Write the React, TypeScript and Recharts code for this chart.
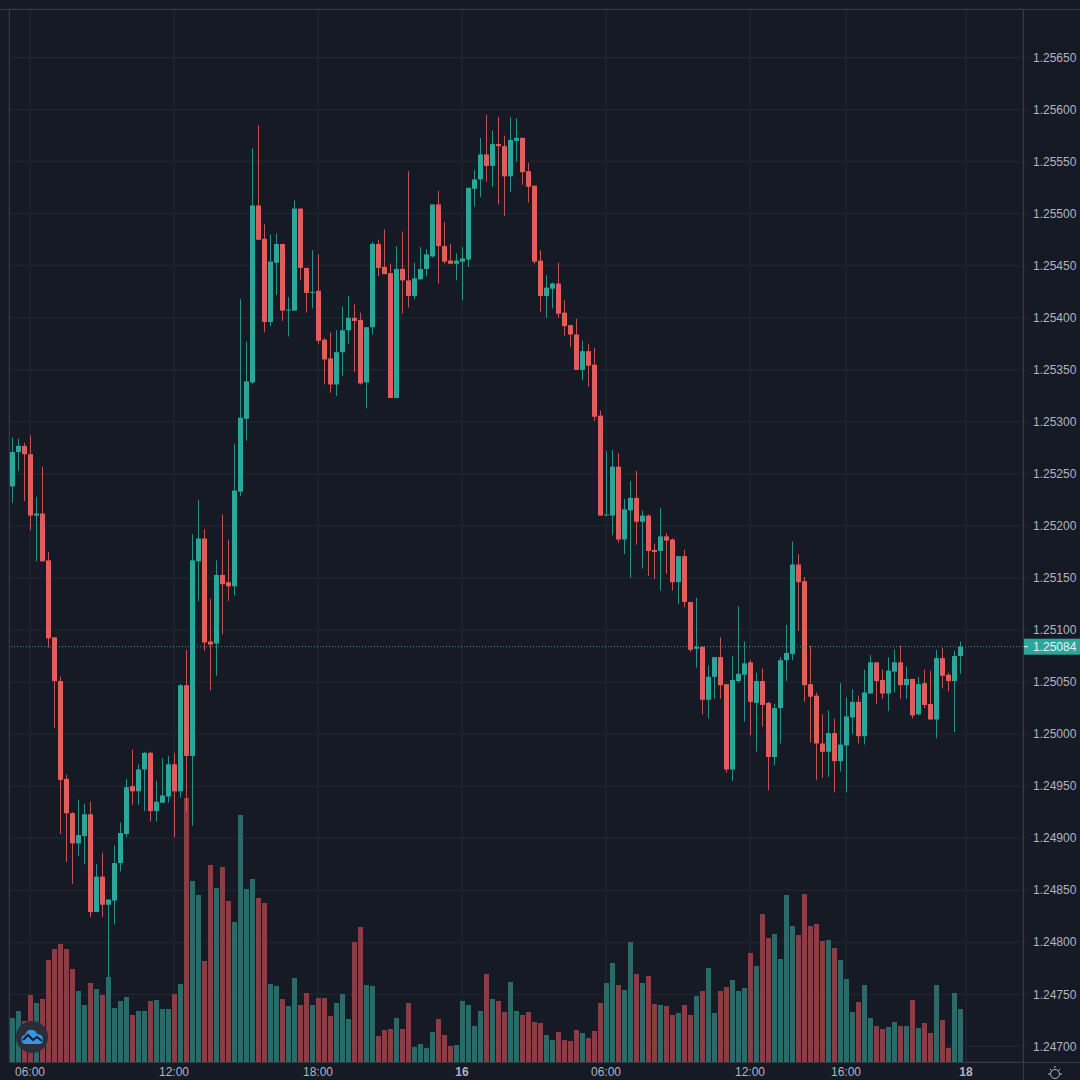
import { ComposedChart, Bar, XAxis, YAxis, CartesianGrid, ReferenceLine, Cell } from "recharts";

// prices are stored in 1/100000 units, 125285 = 1.25285
const highs = [125285,125284,125280,125287,125228,125257,125175,125093,125055,124961,124925,124937,124933,124935,124875,124886,124841,124893,124915,124957,124985,124971,124983,124983,124955,124977,124979,124982,125048,125081,125192,125225,125197,125130,125167,125211,125187,125279,125418,125377,125563,125585,125490,125480,125481,125471,125420,125513,125505,125448,125465,125461,125381,125386,125388,125411,125421,125413,125405,125391,125473,125475,125485,125452,125469,125483,125541,125453,125468,125466,125509,125522,125492,125471,125462,125468,125525,125542,125573,125595,125580,125593,125575,125593,125592,125573,125549,125527,125465,125441,125434,125453,125417,125393,125399,125378,125375,125371,125311,125272,125273,125270,125226,125243,125253,125215,125211,125183,125217,125193,125188,125171,125177,125127,125131,125084,125066,125074,125093,125048,125075,125123,125089,125071,125059,125063,125031,125029,125074,125105,125185,125173,125151,125085,125040,125019,125023,125015,125049,125035,125043,125037,125062,125076,125069,125062,125074,125081,125085,125065,125053,125055,125062,125061,125081,125083,125059,125080,125089];
const opens = [125238,125271,125277,125269,125210,125212,125167,125093,125051,124957,124924,124895,124902,124923,124829,124863,124836,124840,124876,124904,124950,124945,124966,124982,124926,124934,124940,124971,124945,125047,124979,125166,125188,125089,125087,125153,125146,125142,125233,125303,125338,125508,125476,125396,125453,125471,125407,125407,125505,125448,125424,125426,125379,125361,125336,125367,125388,125400,125398,125338,125391,125471,125449,125443,125323,125447,125436,125421,125437,125447,125459,125509,125469,125455,125452,125454,125456,125524,125533,125557,125546,125567,125565,125536,125570,125573,125541,125527,125455,125421,125428,125433,125405,125393,125384,125350,125368,125355,125306,125210,125210,125257,125187,125215,125227,125204,125210,125177,125176,125190,125187,125146,125171,125127,125082,125084,125033,125055,125074,125048,124966,125051,125057,125069,125030,125051,125030,124978,125025,125071,125077,125163,125147,125048,125037,124991,124983,125001,124974,124989,125016,125031,124998,125039,125069,125052,125039,125060,125069,125047,125053,125019,125049,125029,125014,125073,125057,125051,125075];
const closes = [125271,125277,125269,125210,125212,125166,125092,125051,124956,124924,124895,124903,124923,124829,124863,124836,124841,124876,124905,124949,124945,124966,124982,124926,124935,124941,124971,124945,125047,124979,125167,125188,125088,125086,125153,125144,125142,125234,125304,125339,125508,125475,125396,125454,125471,125407,125408,125505,125448,125424,125425,125378,125360,125336,125367,125388,125400,125397,125337,125391,125471,125448,125442,125323,125447,125436,125421,125438,125447,125461,125509,125469,125454,125452,125455,125457,125525,125533,125557,125546,125567,125565,125536,125571,125573,125540,125526,125454,125421,125429,125433,125404,125392,125384,125350,125368,125354,125305,125210,125211,125257,125187,125216,125227,125204,125210,125176,125175,125190,125186,125146,125171,125127,125081,125084,125033,125055,125074,125047,124966,125052,125058,125068,125031,125051,125028,124978,125025,125071,125078,125163,125146,125047,125036,124991,124983,125001,124974,124990,125017,125031,124998,125040,125069,125051,125039,125061,125069,125047,125053,125018,125048,125028,125014,125073,125056,125051,125075,125084];
const lows = [125222,125253,125224,125196,125166,125166,125083,125006,124904,124877,124856,124883,124875,124824,124829,124824,124766,124817,124868,124901,124932,124932,124926,124916,124916,124934,124934,124901,124939,124926,124912,125128,125080,125042,125056,125096,125128,125133,125229,125282,125336,125475,125386,125392,125422,125397,125382,125407,125436,125405,125409,125375,125336,125328,125325,125344,125375,125348,125336,125313,125384,125440,125442,125323,125323,125404,125410,125418,125437,125440,125458,125433,125452,125452,125436,125417,125449,125507,125516,125531,125526,125509,125498,125521,125550,125528,125511,125452,125406,125400,125409,125400,125383,125372,125350,125340,125334,125301,125210,125210,125191,125184,125173,125150,125182,125159,125152,125149,125138,125154,125138,125125,125122,125079,125064,125019,125015,125034,125034,124963,124955,125049,125012,124999,124983,125007,124946,124970,124991,125051,125071,125099,125031,124992,124956,124958,124959,124944,124964,124944,125000,124991,124990,125039,125029,125034,125022,125040,125034,125034,125015,125018,125025,125014,124996,125044,125041,125002,125058];
const volumes = [44,51,41,67,59,63,102,113,118,113,93,71,57,79,73,67,85,54,61,65,47,51,51,61,62,53,53,68,78,264,181,167,101,197,174,195,161,140,247,173,183,164,159,78,76,63,56,84,57,69,57,64,64,46,59,68,43,120,135,77,76,26,32,33,44,33,59,15,18,14,30,43,27,16,17,61,57,36,51,88,63,61,50,80,51,47,50,40,39,27,22,30,22,21,32,29,24,31,59,79,99,77,72,120,88,79,86,58,57,56,47,49,57,47,66,71,94,49,71,75,82,71,74,109,96,148,124,128,103,167,136,127,168,136,138,121,122,114,102,83,50,60,77,44,36,33,35,40,36,36,62,34,39,29,77,42,14,69,53];

const priceTicks = [125650,125600,125550,125500,125450,125400,125350,125300,125250,125200,125150,125100,125050,125000,124950,124900,124850,124800,124750,124700];
const timeTicks = [3,27,51,75,99,123,139,159];
const timeLabels = ["06:00","12:00","18:00","16","06:00","12:00","16:00","18"];
const boldLabels = ["16","18"];
const lastPrice = 125084;

const UP = "#2CA69A";
const DOWN = "#E35C5C";
const UP_VOL = "#2A6B69";
const DOWN_VOL = "#8A3D42";
const BG = "#161A25";
const GRID = "#252935";
const BORDER = "#363A45";
const TEXT = "#B2B5BE";
const SLOTS = 169;

const rows = Array.from({ length: SLOTS }, (_, i) =>
  i < opens.length
    ? { idx: i, open: opens[i], close: closes[i], high: highs[i], low: lows[i], range: [lows[i], highs[i]], volume: volumes[i] }
    : { idx: i }
);

// body and wick from the high-low bar the library has already scaled
function Candle(props: any) {
  const { x, y, width, height, payload } = props;
  if (payload.open === undefined || !height) return null;
  const unit = Math.abs(height) / (payload.high - payload.low);
  const top = Math.max(payload.open, payload.close);
  const bottom = Math.min(payload.open, payload.close);
  const color = payload.close >= payload.open ? UP : DOWN;
  const cx = x + width / 2;
  const bodyY = y + (payload.high - top) * unit;
  const bodyH = Math.max((top - bottom) * unit, 1);
  return (
    <g>
      <rect x={cx - 0.5} y={y} width={1} height={Math.abs(height)} fill={color} fillOpacity={0.85} />
      <rect x={cx - 2.5} y={bodyY} width={5} height={bodyH} fill={color} />
    </g>
  );
}

function TimeTick(props: any) {
  const { x, y, payload } = props;
  const label = timeLabels[timeTicks.indexOf(payload.value)];
  return (
    <text x={x} y={y + 6} textAnchor="middle" fontSize={12} fontFamily="Liberation Sans" fontWeight={boldLabels.includes(label) ? 700 : 400} fill={TEXT}>
      {label}
    </text>
  );
}

function PriceTag(props: any) {
  const { viewBox } = props;
  const right = viewBox.x + viewBox.width;
  return (
    <g>
      <rect x={right} y={viewBox.y - 8} width={57} height={16} fill={UP} />
      <rect x={right} y={viewBox.y - 0.5} width={5} height={1} fill="#E6F4F2" />
      <text x={right + 10} y={viewBox.y + 4} fontSize={12} fontFamily="Liberation Sans" fill="#E6F4F2">
        {(lastPrice / 100000).toFixed(5)}
      </text>
    </g>
  );
}

const line = (left: number, top: number, width: number, height: number) => (
  <div style={{ position: "absolute", left, top, width, height, background: BORDER }} />
);

export default function App() {
  return (
    <div style={{ position: "absolute", left: 0, top: 0, width: 1080, height: 1080, background: BG, overflow: "hidden" }}>
      <ComposedChart width={1080} height={1080} data={rows} margin={{ top: 9, right: 0, bottom: 0, left: 9 }}>
        <CartesianGrid xAxisId="main" yAxisId="price" stroke={GRID} strokeWidth={1} />
        <XAxis xAxisId="main" dataKey="idx" ticks={timeTicks} interval={0} height={18} tick={<TimeTick />} tickLine={false} axisLine={false} />
        <XAxis xAxisId="vol" dataKey="idx" hide />
        <YAxis yAxisId="price" orientation="right" width={57} type="number" domain={[124684.9, 125696.8]} ticks={priceTicks} interval={0}
          tickFormatter={(v: number) => (v / 100000).toFixed(5)} tick={{ fontSize: 12, fontFamily: "Liberation Sans", fill: TEXT }}
          tickSize={5} tickMargin={5} tickLine={{ stroke: GRID }} axisLine={false} />
        <YAxis yAxisId="vol" hide type="number" domain={[0, 1053]} />
        <Bar xAxisId="vol" yAxisId="vol" dataKey="volume" barSize={5} isAnimationActive={false}>
          {rows.map((r: any) => (
            <Cell key={r.idx} fill={r.close >= r.open ? UP_VOL : DOWN_VOL} />
          ))}
        </Bar>
        <Bar xAxisId="main" yAxisId="price" dataKey="range" barSize={5} shape={<Candle />} isAnimationActive={false} />
        <ReferenceLine xAxisId="main" yAxisId="price" y={lastPrice} stroke="#3C9A92" strokeDasharray="1 2" label={<PriceTag />} />
      </ComposedChart>
      {line(0, 9, 1080, 1)}
      {line(9, 9, 1, 1053)}
      {line(1023, 9, 1, 1071)}
      {line(9, 1062, 1071, 1)}
      <svg style={{ position: "absolute", left: 16, top: 1021 }} width={32} height={32} viewBox="0 0 32 32">
        <circle cx={16} cy={16} r={16} fill="#2A2E39" />
        <path d="M6 21 Q4 15 9 14 Q11 8 16 9 Q20 9 21 13 Q27 13 27 19 Q27 23 23 23 L9 23 Q7 23 6 21 Z" fill="#3B93E3" />
        <path d="M7 19 L12 14 L17 19 L21 16 L26 20" fill="none" stroke="#161A25" strokeWidth={2} />
      </svg>
      <svg style={{ position: "absolute", left: 1047, top: 1066 }} width={16} height={14} viewBox="0 0 16 14">
        <circle cx={8} cy={8} r={4.5} fill="none" stroke={TEXT} strokeWidth={1} />
        <path d="M8 0 V2 M1 8 H3 M13 8 H15 M3 3 L4.5 4.5 M13 3 L11.5 4.5" stroke={TEXT} strokeWidth={1} />
      </svg>
    </div>
  );
}
